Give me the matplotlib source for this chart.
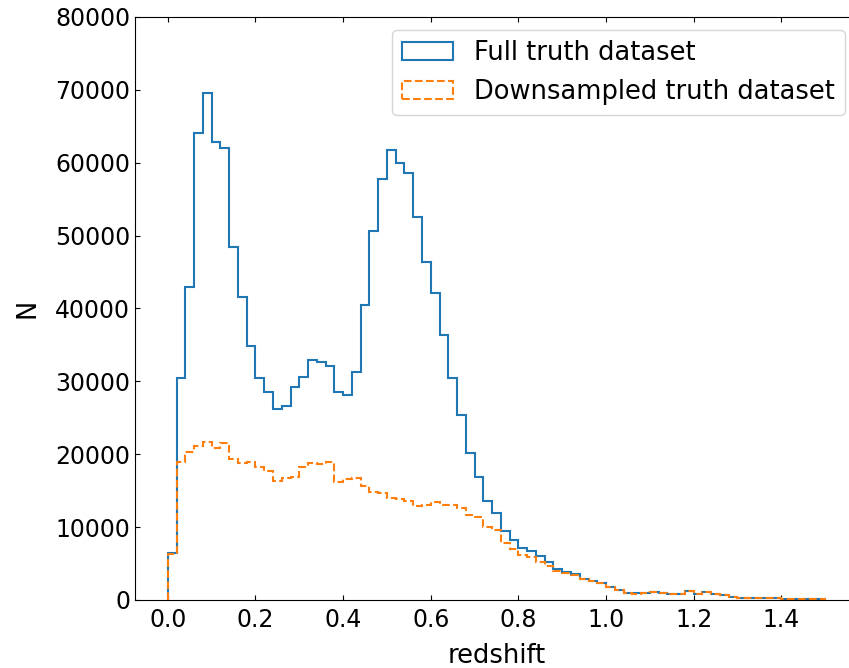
import numpy as np
import matplotlib
matplotlib.use("Agg")
import matplotlib.pyplot as plt

# histogram counts per redshift bin (width 0.02, 0.0 - 1.5)
bin_edges = np.linspace(0.0, 1.5, 76)

full_counts = [
    6400, 30500, 42900, 64100, 69600, 62800, 62000, 48500, 41600, 34900,
    30400, 28600, 26200, 26600, 29200, 30600, 32900, 32600, 32100, 28500,
    28100, 31300, 40500, 50700, 57700, 61700, 59900, 58600, 52500, 46400,
    42100, 36300, 30400, 25400, 20200, 16900, 13600, 11900, 9400, 8200,
    7200, 6700, 6000, 5200, 4300, 3900, 3500, 2900, 2600, 2400,
    1750, 1400, 1000, 900, 1000, 1050, 1000, 800, 850, 1250,
    850, 1050, 820, 690, 400, 280, 240, 230, 220, 220,
    200, 180, 170, 160, 100,
]

down_counts = [
    6300, 18900, 20300, 21100, 21700, 20800, 21600, 19400, 18800, 18900,
    18200, 17700, 16300, 16700, 16900, 18200, 18800, 18700, 18950, 16200,
    16550, 16700, 15600, 14800, 14700, 14050, 13850, 13600, 12900, 13000,
    13450, 13050, 13000, 12600, 11700, 11400, 10050, 9600, 7800, 6950,
    6170, 5950, 5260, 4700, 3950, 3650, 3400, 2850, 2550, 2350,
    1750, 1400, 1000, 880, 980, 1030, 980, 780, 830, 1230,
    830, 1030, 800, 670, 390, 270, 230, 220, 210, 210,
    190, 170, 160, 150, 90,
]

centers = 0.5 * (bin_edges[:-1] + bin_edges[1:])

fig = plt.figure(figsize=(8.49, 6.68), dpi=100)
# the right spine falls just outside the saved picture, as in the original
ax = fig.add_axes([0.159, 0.1018, 0.8516, 0.8728])

ax.hist(centers, bins=bin_edges, weights=full_counts, histtype='step',
        linewidth=1.5, color='C0', label='Full truth dataset')
ax.hist(centers, bins=bin_edges, weights=down_counts, histtype='step',
        linewidth=1.5, linestyle='--', color='C1', label='Downsampled truth dataset')

ax.set_ylim(0, 80000)
ax.set_xlabel('redshift', fontsize=18.5, labelpad=8)
ax.set_ylabel('N', fontsize=18.5, labelpad=10)
ax.tick_params(direction='in', top=True, right=True, labelsize=17)
ax.tick_params(axis='x', pad=6)
ax.legend(loc='upper right', fontsize=18.5)

fig.savefig('out.png', dpi=100)
